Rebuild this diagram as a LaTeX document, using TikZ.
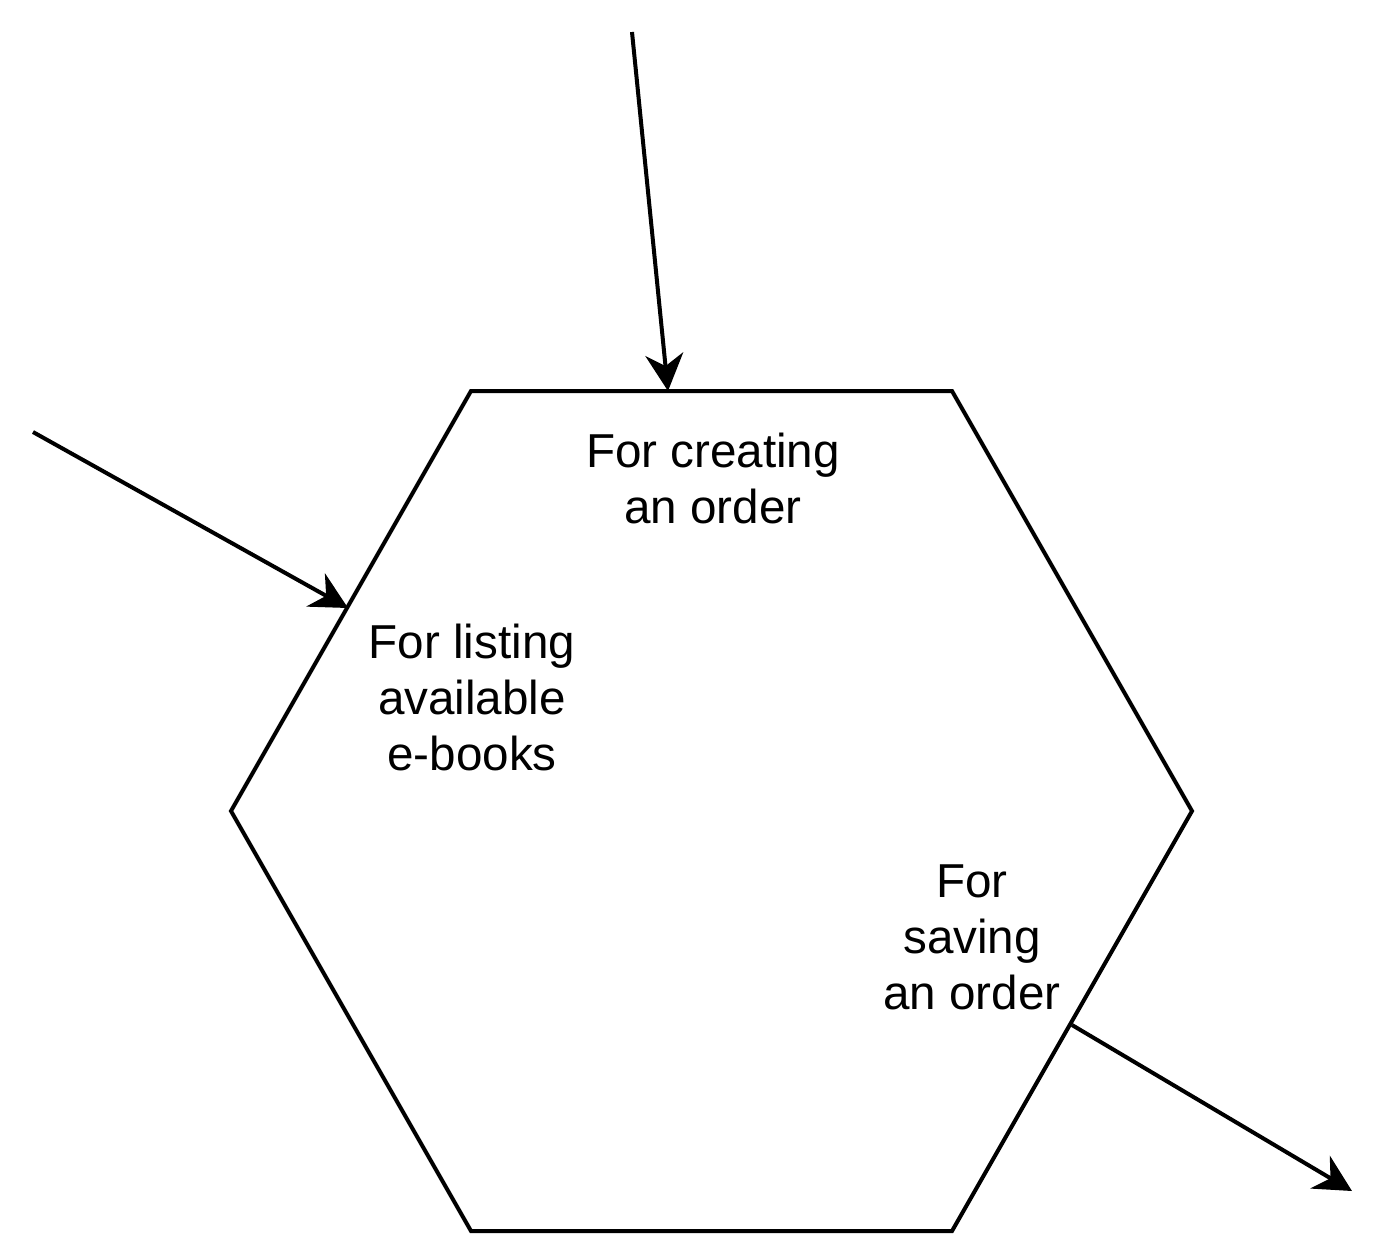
\documentclass[tikz,border=0pt]{standalone}
\usepackage{fontspec}
\setmainfont{Liberation Sans}
\usetikzlibrary{arrows.meta}
\begin{document}
\begin{tikzpicture}[x=1pt,y=-1pt,
  edge/.style={line width=4pt,line join=miter},
  conn/.style={line width=4pt,-{Stealth[length=37pt,width=38pt,inset=12pt]}},
  lbl/.style={align=center,font=\fontsize{47.6}{56}\selectfont,inner sep=0pt}]
\useasboundingbox (0,0) rectangle (1385,1235);
\coordinate (h1) at (471,391);
\coordinate (h2) at (952,391);
\coordinate (h3) at (1192,811);
\coordinate (h4) at (952,1231);
\coordinate (h5) at (471,1231);
\coordinate (h6) at (231,811);
\draw[edge] (h1) -- (h2) -- (h3) -- (h4) -- (h5) -- (h6) -- cycle;
\coordinate (s1) at (632,32);
\coordinate (e1) at (668,391);
\coordinate (s2) at (33,432);
\coordinate (e2) at (348,608);
\coordinate (s3) at (1072,1025);
\coordinate (e3) at (1352,1191);
\draw[conn] (s1) -- (e1);
\draw[conn] (s2) -- (e2);
\draw[conn] (s3) -- (e3);
\node[lbl] (t1) at (713,478) {For creating\\an order};
\node[lbl] (t2) at (472,697) {For listing\\available\\e-books};
\node[lbl] (t3) at (972,937) {For\\saving\\an order};
\end{tikzpicture}
\end{document}
